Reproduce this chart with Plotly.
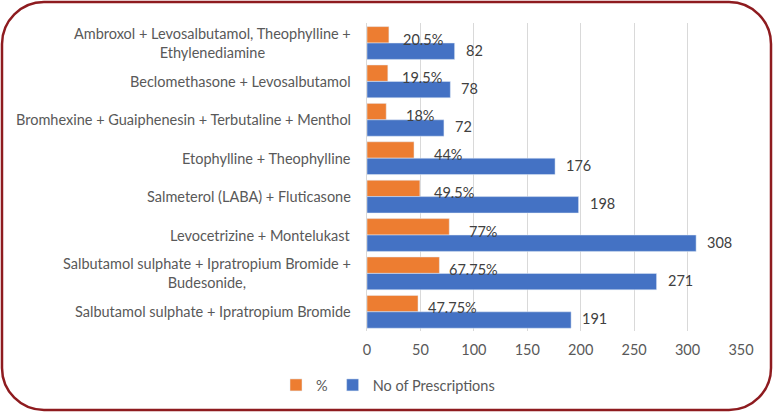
import plotly.graph_objects as go

categories = [
    "Ambroxol + Levosalbutamol, Theophylline +<br>Ethylenediamine",
    "Beclomethasone + Levosalbutamol",
    "Bromhexine + Guaiphenesin + Terbutaline + Menthol",
    "Etophylline + Theophylline",
    "Salmeterol (LABA) + Fluticasone",
    "Levocetrizine + Montelukast",
    "Salbutamol sulphate + Ipratropium Bromide +<br>Budesonide,",
    "Salbutamol sulphate + Ipratropium Bromide",
]
pct_values = [20.5, 19.5, 18, 44, 49.5, 77, 67.75, 47.75]
pct_labels = ["20.5%", "19.5%", "18%", "44%", "49.5%", "77%", "67.75%", "47.75%"]
rx_values = [82, 78, 72, 176, 198, 308, 271, 191]
x_ticks = [0, 50, 100, 150, 200, 250, 300, 350]

W, H = 775, 413
L, R, T, B = 367, 34, 23, 82
pw, ph = W - L - R, H - T - B

FONT = "Lato, 'Open Sans', sans-serif"
GREY = "#595959"
DARK = "#404040"
ORANGE = "#ED7D31"
BLUE = "#4472C4"

fig = go.Figure()
fig.add_trace(go.Bar(
    y=categories, x=pct_values, orientation="h", name="%",
    marker=dict(color=ORANGE), hoverinfo="skip",
))
fig.add_trace(go.Bar(
    y=categories, x=rx_values, orientation="h", name="No of Prescriptions",
    marker=dict(color=BLUE), hoverinfo="skip",
))

annotations = []
for cat in categories:
    annotations.append(dict(
        x=0, y=cat, xref="x", yref="y", text=cat, showarrow=False,
        xanchor="right", yanchor="middle", align="center", xshift=-14,
        font=dict(family=FONT, size=14.5, color=GREY),
    ))
for cat, v, lab in zip(categories, pct_values, pct_labels):
    annotations.append(dict(
        x=v, y=cat, xref="x", yref="y", text=lab, showarrow=False,
        xanchor="center", yanchor="middle", xshift=34, yshift=4,
        font=dict(family=FONT, size=14.5, color=DARK),
    ))
for cat, v in zip(categories, rx_values):
    annotations.append(dict(
        x=v, y=cat, xref="x", yref="y", text=str(v), showarrow=False,
        xanchor="left", yanchor="middle", xshift=9, yshift=-7,
        font=dict(family=FONT, size=14.5, color=DARK),
    ))

# rounded border in paper coordinates
def px_to_paper_x(px):
    return (px - L) / pw

def px_to_paper_y(py):
    return 1 - (py - T) / ph

bx0, bx1, by0, by1 = 2, 771, 2, 410
rad = 42
k = 0.552
x0, x1 = px_to_paper_x(bx0), px_to_paper_x(bx1)
yt, yb = px_to_paper_y(by0), px_to_paper_y(by1)
rx, ry = rad / pw, rad / ph
path = (
    f"M {x0+rx},{yt} L {x1-rx},{yt} "
    f"C {x1-rx+k*rx},{yt} {x1},{yt-ry+k*ry} {x1},{yt-ry} "
    f"L {x1},{yb+ry} "
    f"C {x1},{yb+ry-k*ry} {x1-rx+k*rx},{yb} {x1-rx},{yb} "
    f"L {x0+rx},{yb} "
    f"C {x0+rx-k*rx},{yb} {x0},{yb+ry-k*ry} {x0},{yb+ry} "
    f"L {x0},{yt-ry} "
    f"C {x0},{yt-ry+k*ry} {x0+rx-k*rx},{yt} {x0+rx},{yt} Z"
)

fig.update_layout(
    width=W, height=H,
    margin=dict(l=L, r=R, t=T, b=B),
    paper_bgcolor="white", plot_bgcolor="white",
    barmode="group", bargap=0.145, bargroupgap=0,
    font=dict(family=FONT, size=14, color=GREY),
    showlegend=True,
    legend=dict(
        orientation="h", x=px_to_paper_x(388), xanchor="center",
        y=px_to_paper_y(385), yanchor="middle",
        font=dict(family=FONT, size=14.5, color=GREY),
        traceorder="normal", itemwidth=30,
    ),
    xaxis=dict(
        range=[0, 350], tickvals=x_ticks, ticktext=[str(t) for t in x_ticks],
        showgrid=True, gridcolor="#D9D9D9", gridwidth=1,
        zeroline=False, showline=False, ticks="",
        tickfont=dict(family=FONT, size=14.5, color=GREY),
        ticklabelstandoff=8,
        fixedrange=True,
    ),
    yaxis=dict(
        categoryorder="array", categoryarray=categories,
        autorange="reversed", showticklabels=False, ticks="",
        showline=True, linecolor="#D9D9D9", linewidth=1,
        showgrid=False, zeroline=False, fixedrange=True,
    ),
    annotations=annotations,
    shapes=[dict(
        type="path", path=path, xref="paper", yref="paper",
        line=dict(color="#8E1B1F", width=2.5), fillcolor="rgba(0,0,0,0)",
        layer="above",
    )],
)

fig.write_html(
    "out.html",
    config={"displayModeBar": False},
    post_script="document.body.style.margin='0';document.body.style.overflow='hidden';",
)
